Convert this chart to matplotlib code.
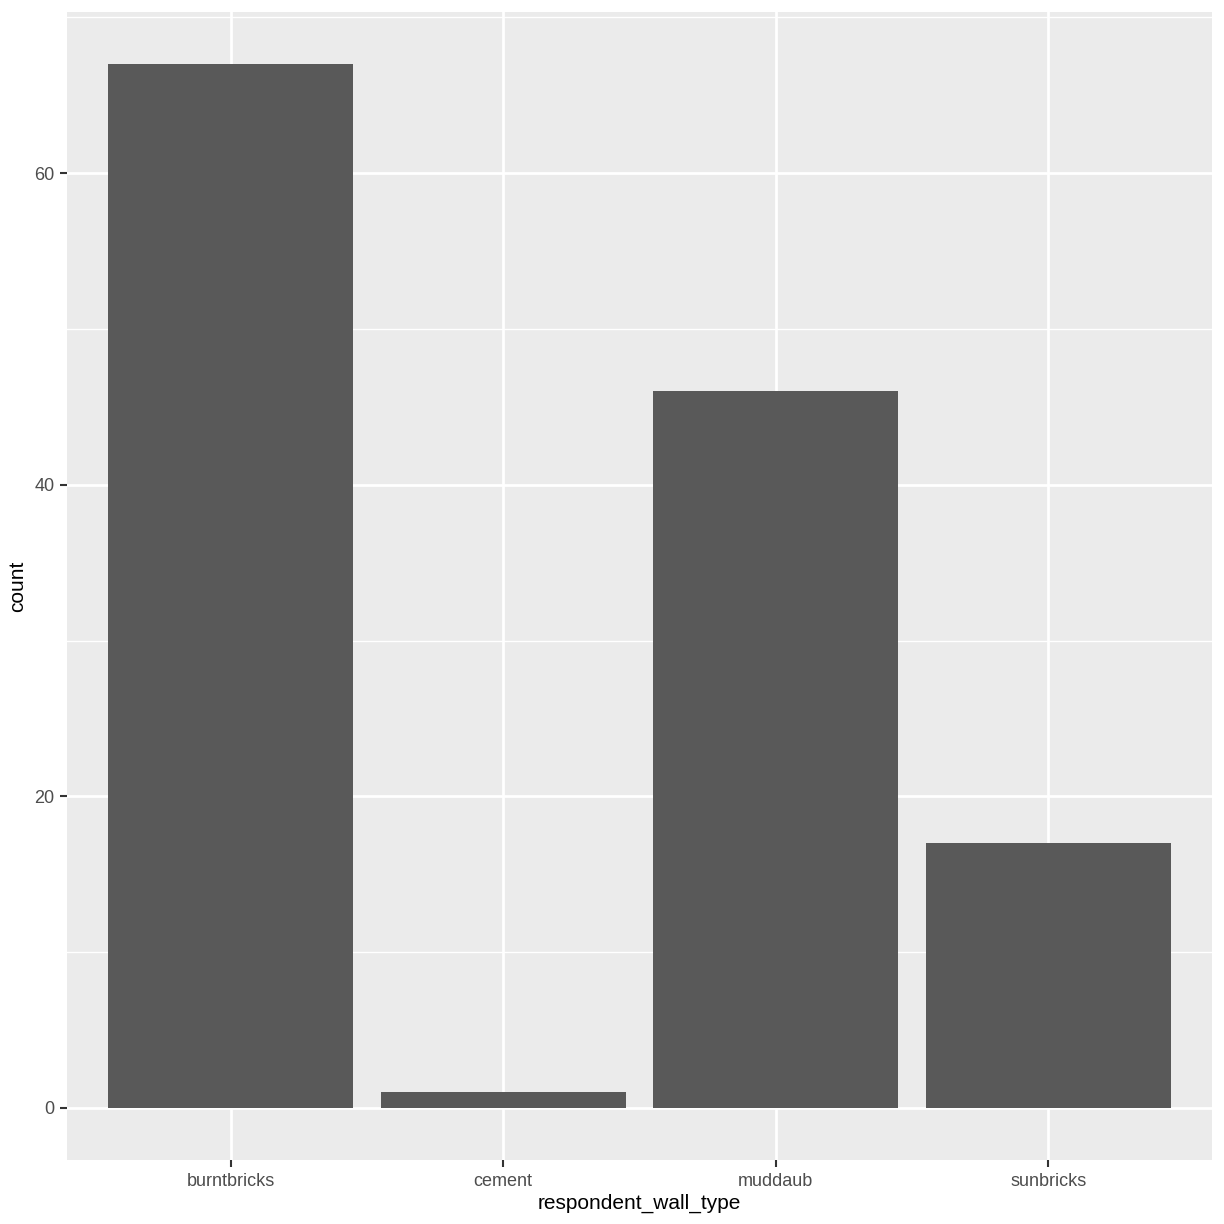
import matplotlib
matplotlib.use("Agg")
import matplotlib.pyplot as plt
from matplotlib import font_manager

wall_types = ["burntbricks", "cement", "muddaub", "sunbricks"]
counts = [67, 1, 46, 17]

names = {f.name for f in font_manager.fontManager.ttflist}
fam = "Liberation Sans Narrow" if "Liberation Sans Narrow" in names else "Liberation Sans"
plt.rcParams["font.family"] = [fam, "DejaVu Sans"]

fig = plt.figure(figsize=(12.24, 12.24), dpi=100)
ax = fig.add_axes([67 / 1224, 64 / 1224, (1212 - 67) / 1224, (1160 - 12) / 1224])
ax.set_facecolor("#EBEBEB")

x = list(range(len(wall_types)))
ax.bar(x, counts, width=0.9, color="#595959", zorder=3)

ax.set_xlim(-0.6, len(wall_types) - 0.4)
ax.set_ylim(-0.05 * max(counts), max(counts) * 1.05)

ax.set_yticks([0, 20, 40, 60])
ax.set_yticks([10, 30, 50, 70], minor=True)
ax.set_xticks(x)
ax.set_xticklabels(wall_types)

ax.grid(which="major", color="white", linewidth=2.0, zorder=0)
ax.grid(which="minor", axis="y", color="white", linewidth=1.0, zorder=0)
ax.set_axisbelow(True)
for s in ax.spines.values():
    s.set_visible(False)

ax.tick_params(axis="both", which="major", length=5, width=1.5, color="#333333",
               labelcolor="#4D4D4D", labelsize=13, pad=4)
ax.tick_params(axis="both", which="minor", length=0)

ax.set_xlabel("respondent_wall_type", fontsize=15, color="black", labelpad=3)
ax.set_ylabel("count", fontsize=15, color="black", labelpad=5)

fig.savefig("out.png", dpi=100, facecolor="white")
